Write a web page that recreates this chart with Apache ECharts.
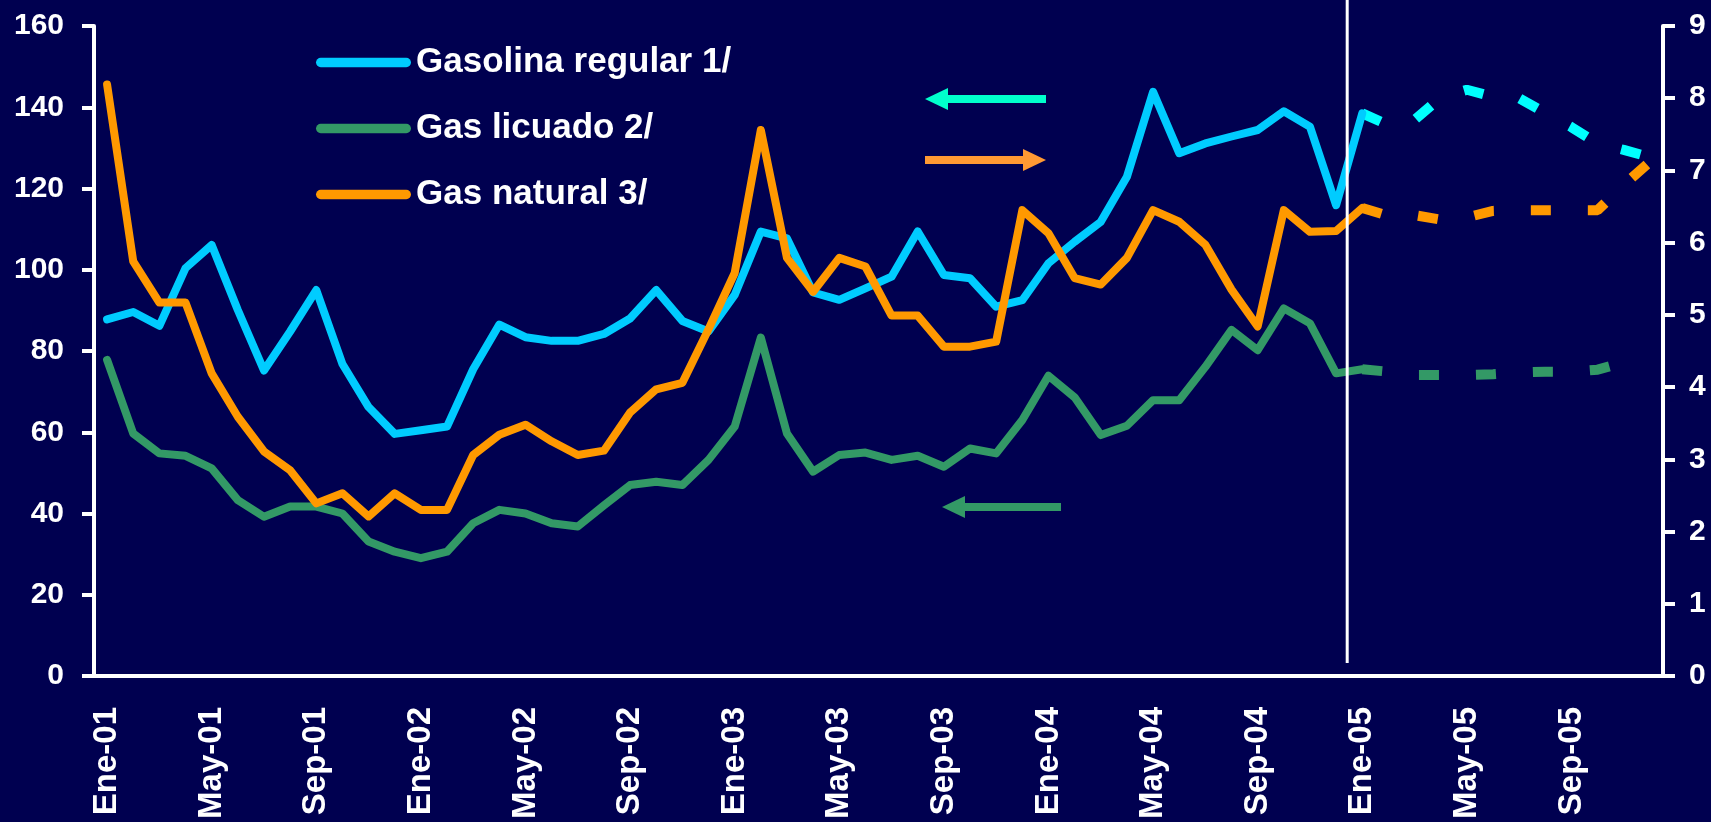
<!DOCTYPE html>
<html>
<head>
<meta charset="utf-8">
<title>Precios de combustibles</title>
<script src="https://cdn.jsdelivr.net/npm/echarts@6/dist/echarts.min.js"></script>
<style>
  html, body { margin: 0; padding: 0; background: #000050; }
  #chart { width: 1711px; height: 822px; }
</style>
</head>
<body>
<div id="chart"></div>
<script>
// meses del eje (Ene-01 ... Dic-05)
const meses = ['Ene', 'Feb', 'Mar', 'Abr', 'May', 'Jun', 'Jul', 'Ago', 'Sep', 'Oct', 'Nov', 'Dic']
const anios = ['01', '02', '03', '04', '05']
const categorias = []
anios.forEach(a => meses.forEach(m => categorias.push(m + '-' + a)))

// ticks de los ejes
const ticksIzq = [0, 20, 40, 60, 80, 100, 120, 140, 160]
const ticksDer = [0, 1, 2, 3, 4, 5, 6, 7, 8, 9]

// observado Ene-01 .. Ene-05 (eje izquierdo)
const gasolinaReal = [
  87.8, 89.6, 86.2, 100.4, 106.1, 90.1, 75.2, 84.8, 95.0, 76.8, 66.2, 59.6,
  60.5, 61.4, 75.5, 86.5, 83.4, 82.5, 82.5, 84.2, 88.0, 95.0, 87.4, 84.8,
  93.8, 109.4, 107.7, 94.4, 92.6, 95.4, 98.3, 109.4, 98.7, 97.9, 90.9, 92.5,
  101.6, 106.9, 111.8, 122.9, 143.8, 128.7, 131.1, 132.8, 134.4, 139.0, 135.2, 115.9,
  138.5
]
const licuadoReal = [
  77.8, 59.7, 54.8, 54.2, 51.1, 43.3, 39.2, 41.7, 41.7, 40.0, 33.1, 30.6,
  29.0, 30.6, 37.6, 40.9, 40.0, 37.6, 36.8, 42.0, 47.0, 47.8, 47.0, 53.2,
  61.4, 83.3, 59.7, 50.3, 54.4, 55.0, 53.2, 54.2, 51.5, 56.0, 54.8, 63.0,
  73.9, 68.6, 59.3, 61.6, 67.9, 67.9, 76.1, 85.2, 80.2, 90.5, 86.8, 74.5,
  75.5
]
// gas natural (eje derecho)
const naturalReal = [
  8.19, 5.74, 5.17, 5.17, 4.19, 3.59, 3.11, 2.85, 2.39, 2.53, 2.21, 2.53,
  2.30, 2.30, 3.06, 3.34, 3.48, 3.25, 3.06, 3.12, 3.65, 3.97, 4.06, 4.80,
  5.58, 7.56, 5.79, 5.32, 5.79, 5.67, 4.99, 4.99, 4.56, 4.56, 4.63, 6.45,
  6.13, 5.51, 5.42, 5.79, 6.45, 6.29, 5.97, 5.35, 4.84, 6.45, 6.15, 6.16,
  6.48
]

// proyeccion desde Ene-05
const gasolinaProy = [138.5, 135.6, 136.9, 142.4, 144.3, 142.6, 142.2, 138.6, 135.1, 131.1, 129.5, 127.7]
const licuadoProy = [75.5, 74.9, 74.1, 74.1, 74.1, 74.3, 74.7, 74.9, 74.9, 75.4, 77.2]
const naturalProy = [6.48, 6.37, 6.38, 6.32, 6.35, 6.44, 6.45, 6.45, 6.45, 6.45, 6.8, 7.12]

const inicioProy = gasolinaReal.length - 1

const rellenar = (vals, desde) => {
  const out = new Array(categorias.length).fill(null)
  vals.forEach((v, i) => { out[desde + i] = v })
  return out
}

const fuente = "'Liberation Sans', Arial, sans-serif"
const blanco = '#ffffff'

const chart = echarts.init(document.getElementById('chart'))

const solida = (name, data, color, yAxisIndex) => ({
  name, type: 'line', data: rellenar(data, 0), yAxisIndex,
  symbol: 'none', z: 3,
  lineStyle: { color, width: 8, cap: 'round', join: 'round' },
  itemStyle: { color }
})
const punteada = (name, data, color, yAxisIndex) => ({
  name, type: 'line', data: rellenar(data, inicioProy), yAxisIndex,
  symbol: 'none', z: 2,
  lineStyle: { color, width: 10, type: [20, 37], cap: 'butt' },
  itemStyle: { color }
})

const pill = 'path://M5,0 L95,0 A5,5 0 0 1 95,10 L5,10 A5,5 0 0 1 5,0 Z'

const option = {
  backgroundColor: '#000050',
  animation: false,
  grid: { left: 94, right: 48, top: 26, bottom: 146 },
  legend: {
    data: [
      { name: 'Gasolina regular 1/', icon: pill },
      { name: 'Gas licuado 2/', icon: pill },
      { name: 'Gas natural 3/', icon: pill }
    ],
    orient: 'vertical',
    left: 311,
    top: 40,
    itemWidth: 95,
    itemHeight: 10,
    itemGap: 31,
    textStyle: { color: blanco, fontSize: 35, fontWeight: 'bold', fontFamily: fuente }
  },
  xAxis: {
    type: 'category',
    data: categorias,
    boundaryGap: true,
    axisLine: { lineStyle: { color: blanco, width: 4 } },
    axisTick: { interval: 3, length: 11, lineStyle: { color: blanco, width: 4 } },
    axisLabel: {
      interval: 3,
      rotate: 90,
      margin: 31,
      padding: [0, 0, 8, 0],
      color: blanco,
      fontSize: 33,
      fontWeight: 'bold',
      fontFamily: fuente
    },
    splitLine: { show: false }
  },
  yAxis: [
    {
      type: 'value',
      min: ticksIzq[0],
      max: ticksIzq[ticksIzq.length - 1],
      interval: ticksIzq[1] - ticksIzq[0],
      axisLine: { show: true, lineStyle: { color: blanco, width: 4 } },
      axisTick: { show: true, length: 12, lineStyle: { color: blanco, width: 4 } },
      axisLabel: { color: blanco, fontSize: 30, fontWeight: 'bold', fontFamily: fuente, margin: 30 },
      splitLine: { show: false }
    },
    {
      type: 'value',
      position: 'right',
      min: ticksDer[0],
      max: ticksDer[ticksDer.length - 1],
      interval: ticksDer[1] - ticksDer[0],
      axisLine: { show: true, lineStyle: { color: blanco, width: 4 } },
      axisTick: { show: true, length: 12, lineStyle: { color: blanco, width: 4 } },
      axisLabel: { color: blanco, fontSize: 30, fontWeight: 'bold', fontFamily: fuente, margin: 26 },
      splitLine: { show: false }
    }
  ],
  series: [
    punteada('Gasolina regular proy.', gasolinaProy, '#00ffff', 0),
    punteada('Gas licuado proy.', licuadoProy, '#339966', 0),
    punteada('Gas natural proy.', naturalProy, '#ff9900', 1),
    solida('Gasolina regular 1/', gasolinaReal, '#00ccff', 0),
    solida('Gas licuado 2/', licuadoReal, '#339966', 0),
    solida('Gas natural 3/', naturalReal, '#ff9900', 1)
  ]
}

chart.setOption(option)

// flechas que indican el eje de cada serie
const flecha = (x0, x1, y, color, haciaIzq) => {
  const cabeza = 23
  const alto = 11
  const punta = haciaIzq ? x0 : x1
  const base = haciaIzq ? x0 + cabeza : x1 - cabeza
  return [
    {
      type: 'rect',
      shape: haciaIzq
        ? { x: base - 1, y: y - 4, width: x1 - base + 1, height: 8 }
        : { x: x0, y: y - 4, width: base - x0 + 1, height: 8 },
      style: { fill: color }
    },
    {
      type: 'polygon',
      shape: { points: [[punta, y], [base, y - alto], [base, y + alto]] },
      style: { fill: color }
    }
  ]
}

// linea vertical entre Dic-04 y Ene-05
const xa = chart.convertToPixel({ xAxisIndex: 0 }, 'Dic-04')
const xb = chart.convertToPixel({ xAxisIndex: 0 }, 'Ene-05')
const xCorte = (xa + xb) / 2 - 2

chart.setOption({
  graphic: [
    {
      type: 'line',
      shape: { x1: xCorte, y1: 0, x2: xCorte, y2: 663 },
      style: { stroke: blanco, lineWidth: 3 },
      z: 10
    },
    ...flecha(925, 1046, 99, '#00ffcc', true),
    ...flecha(925, 1046, 160, '#ff9933', false),
    ...flecha(942, 1061, 507, '#339966', true)
  ]
})
</script>
</body>
</html>
